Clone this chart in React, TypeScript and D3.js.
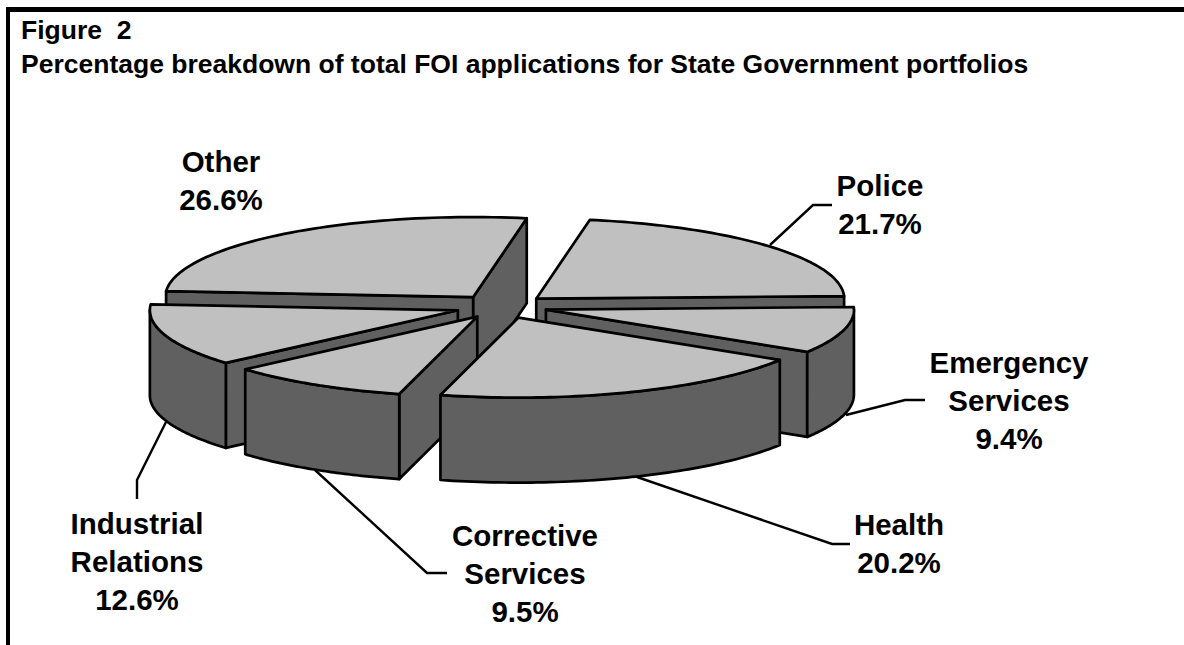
import React from "react";
import * as d3 from "d3";

const categories = ["Police", "Emergency Services", "Health", "Corrective Services", "Industrial Relations", "Other"];
const shares = [21.7, 9.4, 20.2, 9.5, 12.6, 26.6];
const paintOrder = [5, 0, 1, 4, 3, 2];
const titleLines = ["Figure  2", "Percentage breakdown of total FOI applications for State Government portfolios"];

// label layout (by category index)
const labelLines = [
  ["Police", "21.7%"],
  ["Emergency", "Services", "9.4%"],
  ["Health", "20.2%"],
  ["Corrective", "Services", "9.5%"],
  ["Industrial", "Relations", "12.6%"],
  ["Other", "26.6%"],
];
const labelAnchors: [number, number][] = [
  [880, 196], [1009, 373], [899, 535], [525, 546], [137, 534], [221, 172],
];
const leaders: [number, number][][] = [
  [[770, 245], [813, 205], [832, 205]],
  [[846, 415], [905, 400], [925, 400]],
  [[637, 477], [832, 544], [850, 544]],
  [[315, 470], [427, 573], [447, 573]],
  [[166, 422], [137, 480], [137, 499]],
  [],
];

const W = 1184, H = 645;
const CX = 501.5, CY = 306.5, RX = 308, RY = 80, DEPTH = 85, EXPLODE = 46;
const START = (10 * Math.PI) / 180;
const TOP = "#c0c0c0", SIDE = "#606060";

type P = [number, number];

export default function App() {
  const arcs = d3.pie<number>().sort(null).startAngle(START).endAngle(START + 2 * Math.PI)(shares);
  const line = d3.line<P>();
  const shapes = paintOrder.map((i) => {
    const a = arcs[i];
    const mid = (a.startAngle + a.endAngle) / 2;
    const ax = CX + EXPLODE * Math.sin(mid);
    const ay = CY - (EXPLODE * RY * Math.cos(mid)) / RX;
    const rim = (t: number, drop = 0): P => [ax + RX * Math.sin(t), ay - RY * Math.cos(t) + drop];
    const steps = (t0: number, t1: number) => d3.range(0, 61).map((k) => t0 + ((t1 - t0) * k) / 60);
    const top: P[] = [[ax, ay], ...steps(a.startAngle, a.endAngle).map((t) => rim(t))];
    const interior = rim(mid);
    const inner: P = [(ax + interior[0]) / 2, (ay + interior[1]) / 2];
    const radial = [a.startAngle, a.endAngle]
      .filter((t) => {
        const e = rim(t);
        const lineY = ay + ((e[1] - ay) / (e[0] - ax)) * (inner[0] - ax);
        return inner[1] < lineY;
      })
      .map((t) => {
        const e = rim(t);
        return [[ax, ay], e, [e[0], e[1] + DEPTH], [ax, ay + DEPTH]] as P[];
      });
    const wall: P[][] = [];
    // front-facing part of the rim: angles between 90° and 270°
    const lo = Math.max(a.startAngle, Math.PI / 2);
    const hi = Math.min(a.endAngle, (3 * Math.PI) / 2);
    if (hi > lo) {
      const s = steps(lo, hi);
      wall.push([...s.map((t) => rim(t)), ...s.slice().reverse().map((t) => rim(t, DEPTH))]);
    }
    return { i, top, radial, wall };
  });

  const sw = 2.7;
  return (
    <svg width={W} height={H} viewBox={`0 0 ${W} ${H}`} style={{ position: "absolute", left: 0, top: 0, background: "#fff" }}
      fontFamily="'Liberation Sans', Arial, sans-serif" fontWeight="bold" fill="#000">
      <line x1={8} y1={7} x2={8} y2={H} stroke="#000" strokeWidth={4} />
      <line x1={6} y1={9.5} x2={W} y2={9.5} stroke="#000" strokeWidth={5} />
      {titleLines.map((t, k) => (
        <text key={k} x={21} y={[39, 72.5][k]} fontSize={26.5} style={{ whiteSpace: "pre" }}>{t}</text>
      ))}
      {leaders.map((pts, k) => pts.length > 0 && (
        <path key={k} d={line(pts) ?? ""} fill="none" stroke="#000" strokeWidth={2.4} />
      ))}
      {shapes.map((s) => (
        <g key={s.i} stroke="#000" strokeWidth={sw} strokeLinejoin="round">
          {s.radial.map((r, k) => <path key={k} d={(line(r) ?? "") + "Z"} fill={SIDE} />)}
          {s.wall.map((r, k) => <path key={k} d={(line(r) ?? "") + "Z"} fill={SIDE} />)}
          <path d={(line(s.top) ?? "") + "Z"} fill={TOP} />
        </g>
      ))}
      {labelLines.map((ls, i) => (
        <text key={categories[i]} textAnchor="middle" fontSize={29.5}>
          {ls.map((l, k) => (
            <tspan key={k} x={labelAnchors[i][0]} y={labelAnchors[i][1] + k * 38}>{l}</tspan>
          ))}
        </text>
      ))}
    </svg>
  );
}
